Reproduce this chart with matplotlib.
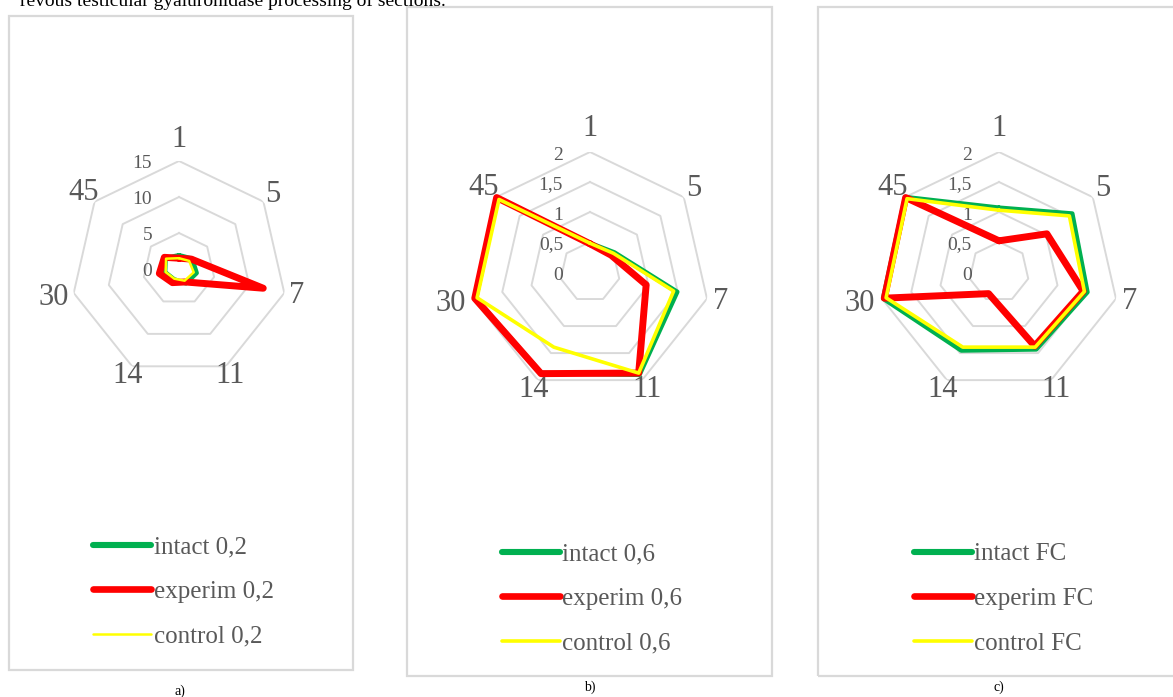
import matplotlib
matplotlib.use('Agg')
import matplotlib.pyplot as plt
import numpy as np
from matplotlib.patches import Rectangle
from matplotlib.lines import Line2D
from matplotlib.transforms import offset_copy

W, H = 1173, 697

categories = ['1', '5', '7', '11', '14', '30', '45']

# panel a) 0,2
a_intact = [1.9, 2.3, 2.5, 2.2, 1.6, 2.0, 2.4]
a_experim = [1.5, 2.2, 12.0, 2.0, 2.1, 2.8, 2.6]
a_control = [1.5, 1.8, 2.1, 1.8, 1.5, 1.9, 2.3]
a_rings = [5, 10, 15]
a_ring_labels = ['0', '5', '10', '15']

# panel b) 0,6
b_intact = [0.48, 0.52, 1.49, 1.90, 1.87, 1.96, 1.98]
b_experim = [0.47, 0.45, 0.96, 1.87, 1.88, 1.97, 1.99]
b_control = [0.48, 0.50, 1.43, 1.87, 1.39, 1.93, 1.94]

# panel c) FC
c_intact = [1.07, 1.56, 1.51, 1.43, 1.45, 1.98, 2.00]
c_experim = [0.52, 1.02, 1.44, 1.37, 0.40, 1.96, 1.99]
c_control = [1.03, 1.50, 1.46, 1.39, 1.39, 1.93, 1.96]
bc_rings = [0.5, 1, 1.5, 2]
bc_ring_labels = ['0', '0,5', '1', '1,5', '2']

GREEN, RED, YELLOW = '#00B050', '#FF0000', '#FFFF00'
GRID = '#D9D9D9'
TXT = '#595959'
SERIF = 'Liberation Serif'


def px_box(x0, y0, x1, y1):
    return [x0 / W, 1 - y1 / H, (x1 - x0) / W, (y1 - y0) / H]


fig = plt.figure(figsize=(W / 100, H / 100), dpi=100)

# panel frames
for (x0, y0, x1, y1) in [(9, 16, 353, 670), (407, 7, 772, 676), (818, 7, 1190, 676)]:
    fig.add_artist(Rectangle((x0 / W, 1 - y1 / H), (x1 - x0) / W, (y1 - y0) / H,
                             transform=fig.transFigure, fill=False,
                             ec=GRID, lw=1.6))


def radar(cx, cy, R, rmax, rings, ring_labels, series, suffix, leg_x, leg_y, yellow_lw):
    ax = fig.add_axes(px_box(cx - R, cy - R, cx + R, cy + R), projection='polar')
    ax.set_theta_offset(np.pi / 2)
    ax.set_theta_direction(-1)
    ax.set_ylim(0, rmax)
    ax.grid(False)
    ax.set_xticks([])
    ax.set_yticks([])
    ax.spines['polar'].set_visible(False)
    ax.patch.set_alpha(0)

    theta = np.linspace(0, 2 * np.pi, len(categories), endpoint=False)
    tc = np.append(theta, theta[0])
    for r in rings:
        ax.plot(tc, [r] * len(tc), color=GRID, lw=1.4, zorder=1)

    lab_f = [1.2, 1.11, 1.12, 1.09, 1.09, 1.19, 1.13]
    for t, lab, f in zip(theta, categories, lab_f):
        ax.text(t, rmax * f, lab, ha='center', va='center', fontsize=22,
                color=TXT, family=SERIF, clip_on=False)

    tr = offset_copy(ax.transData, fig=fig, x=-27, y=-3, units='dots')
    for v, lab in zip([0] + list(rings), ring_labels):
        ax.text(0, v, lab, transform=tr, ha='right', va='center',
                fontsize=14, color=TXT, family=SERIF)

    styles = [('intact', GREEN, 3.4, 4.4), ('experim', RED, 5.0, 4.8),
              ('control', YELLOW, yellow_lw, yellow_lw)]
    handles = []
    for vals, (name, col, lw, leg_lw) in zip(series, styles):
        v = np.append(vals, vals[0])
        ax.plot(tc, v, color=col, lw=lw, solid_joinstyle='round',
                solid_capstyle='round', zorder=3, clip_on=False)
        handles.append(Line2D([], [], color=col, lw=leg_lw, solid_capstyle='round',
                              label=f'{name} {suffix}'))

    fig.legend(handles=handles, loc='upper left',
               bbox_to_anchor=(leg_x / W, 1 - leg_y / H),
               frameon=False, handlelength=2.3, handletextpad=0.12,
               labelspacing=0.88, borderpad=0, borderaxespad=0,
               prop={'family': SERIF, 'size': 18}, labelcolor=TXT)
    return ax


radar(179, 269, 108, 15, a_rings, a_ring_labels,
      [a_intact, a_experim, a_control], '0,2', 93, 536, 1.8)
radar(590, 272, 120, 2, bc_rings, bc_ring_labels,
      [b_intact, b_experim, b_control], '0,6', 502, 543, 2.6)
radar(999, 272, 120, 2, bc_rings, bc_ring_labels,
      [c_intact, c_experim, c_control], 'FC', 914, 543, 2.6)

for lab, x, y in [('a)', 180, 691), ('b)', 590, 687), ('c)', 999, 687)]:
    fig.text(x / W, 1 - y / H, lab, ha='center', va='center',
             fontsize=10, family=SERIF, color='black')

# caption line cut off by the top edge, as in the source page
fig.text(446 / W, 1 - 6 / H, 'revous testicular gyaluronidase processing of sections.',
         ha='right', va='baseline', fontsize=14, family=SERIF, color='black')

fig.savefig('out.png', dpi=100)
